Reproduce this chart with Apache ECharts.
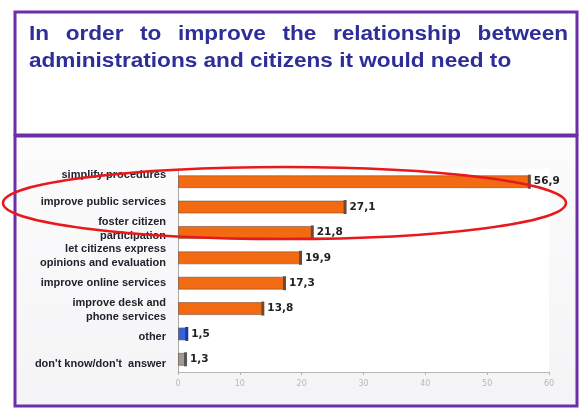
<!DOCTYPE html>
<html>
<head>
<meta charset="utf-8">
<script src="https://cdn.jsdelivr.net/npm/echarts@6/dist/echarts.min.js"></script>
<style>
  html, body { margin: 0; padding: 0; background: #fff; }
  #chart { width: 580px; height: 410px; }
</style>
</head>
<body>
<div id="chart"></div>
<script>
// Survey answers, top to bottom
const categories = [
  'simplify procedures',
  'improve public services',
  'foster citizen\nparticipation',
  'let citizens express\nopinions and evaluation',
  'improve online services',
  'improve desk and\nphone services',
  'other',
  "don't know/don't  answer"
];
// Share of respondents (%)
const values = [56.9, 27.1, 21.8, 19.9, 17.3, 13.8, 1.5, 1.3];
// Value axis ticks
const xTicks = [0, 10, 20, 30, 40, 50, 60];

const titleLine1 = 'In order to improve the relationship between';
const titleLine2 = 'administrations and citizens it would need to';

// Bar body and end-cap colours per answer
const bodyColors = ['#F26A12', '#F26A12', '#F26A12', '#F26A12', '#F26A12', '#F26A12', '#3462E0', '#9C9C9C'];
const capColors  = ['#6E4A36', '#6E4A36', '#6E4A36', '#6E4A36', '#6E4A36', '#6E4A36', '#1E3A96', '#555555'];

const PURPLE = '#6B2FA8';
const TITLE_COLOR = '#2E2E99';
const TITLE_FONT = 'bold 20px "Liberation Sans", Arial, sans-serif';
const TITLE_STRETCH = 1.13;   // wide title lettering

function titleText(text, x, y) {
  return {
    type: 'text', x: x, y: y, scaleX: TITLE_STRETCH, z: 10,
    style: { text: text, font: TITLE_FONT, fill: TITLE_COLOR, verticalAlign: 'middle', align: 'left' }
  };
}

// Spread the first title line across the full box width (justified text)
function justifiedWords(line, x0, x1, y) {
  const ctx = document.createElement('canvas').getContext('2d');
  ctx.font = TITLE_FONT;
  const words = line.split(' ');
  const widths = words.map(w => ctx.measureText(w).width * TITLE_STRETCH);
  const total = widths.reduce((a, b) => a + b, 0);
  const gap = (x1 - x0 - total) / (words.length - 1);
  let x = x0;
  return words.map((w, i) => {
    const el = titleText(w, x, y);
    x += widths[i] + gap;
    return el;
  });
}

const chart = echarts.init(document.getElementById('chart'), null, { renderer: 'canvas' });

const option = {
  animation: false,
  backgroundColor: '#ffffff',
  graphic: [
    // title box
    { type: 'rect', z: 1, shape: { x: 15, y: 12, width: 562, height: 123 },
      style: { fill: '#ffffff', stroke: PURPLE, lineWidth: 3 } },
    // chart box
    { type: 'rect', z: -1, shape: { x: 15, y: 136, width: 562, height: 270 },
      style: {
        fill: new echarts.graphic.LinearGradient(0, 0, 0, 1, [
          { offset: 0, color: '#fcfcfd' }, { offset: 1, color: '#f4f4f6' }
        ]),
        stroke: PURPLE, lineWidth: 3
      } },
    ...justifiedWords(titleLine1, 29, 568, 34),
    titleText(titleLine2, 29, 61),
    // highlight around the three leading answers
    { type: 'ellipse', z: 20, silent: true,
      shape: { cx: 284.5, cy: 203, rx: 281.5, ry: 36 },
      style: { fill: 'none', stroke: '#E8191C', lineWidth: 2.5 } }
  ],
  grid: [
    { left: 178, right: 31, top: 169, bottom: 38, show: true, backgroundColor: '#ffffff', borderWidth: 0 },
    { left: 170, width: 1, top: 161.5, height: 216 }
  ],
  xAxis: [
    {
      gridIndex: 0, type: 'value', min: xTicks[0], max: xTicks[xTicks.length - 1],
      interval: xTicks[1] - xTicks[0],
      axisLine: { show: true, lineStyle: { color: '#b4b4b4' } },
      axisTick: { show: true, length: 3, lineStyle: { color: '#b4b4b4' } },
      axisLabel: { color: '#b8b8b8', fontSize: 8, margin: 8, fontFamily: 'DejaVu Sans' },
      splitLine: { show: false }
    },
    { gridIndex: 1, type: 'value', show: false }
  ],
  yAxis: [
    {
      gridIndex: 0, type: 'category', data: categories, inverse: true,
      axisLine: { show: true, lineStyle: { color: '#a8a8a8' } },
      axisTick: { show: false },
      axisLabel: { show: false }
    },
    {
      gridIndex: 1, type: 'category', data: categories, inverse: true,
      axisLine: { show: false }, axisTick: { show: false },
      axisLabel: {
        margin: 4, color: '#22222e', fontSize: 11, fontWeight: 'bold',
        fontFamily: '"Liberation Sans", Arial, sans-serif', lineHeight: 14, align: 'right'
      }
    }
  ],
  series: [
    {
      type: 'bar', xAxisIndex: 0, yAxisIndex: 0,
      data: values, barWidth: 13,
      itemStyle: {
        color: p => bodyColors[p.dataIndex],
        borderColor: 'rgba(110,74,54,0.55)', borderWidth: 1
      },
      label: {
        show: true, position: 'right', distance: 4,
        formatter: p => String(p.value).replace('.', ','),
        fontFamily: 'DejaVu Sans', fontWeight: 'bold', fontSize: 10.5, color: '#222222'
      },
      z: 2
    },
    {
      type: 'pictorialBar', xAxisIndex: 0, yAxisIndex: 0,
      data: values, symbol: 'rect', symbolSize: [3, 14],
      symbolPosition: 'end', symbolOffset: [1, 0],
      itemStyle: { color: p => capColors[p.dataIndex] },
      z: 3
    }
  ]
};

chart.setOption(option);
</script>
</body>
</html>
